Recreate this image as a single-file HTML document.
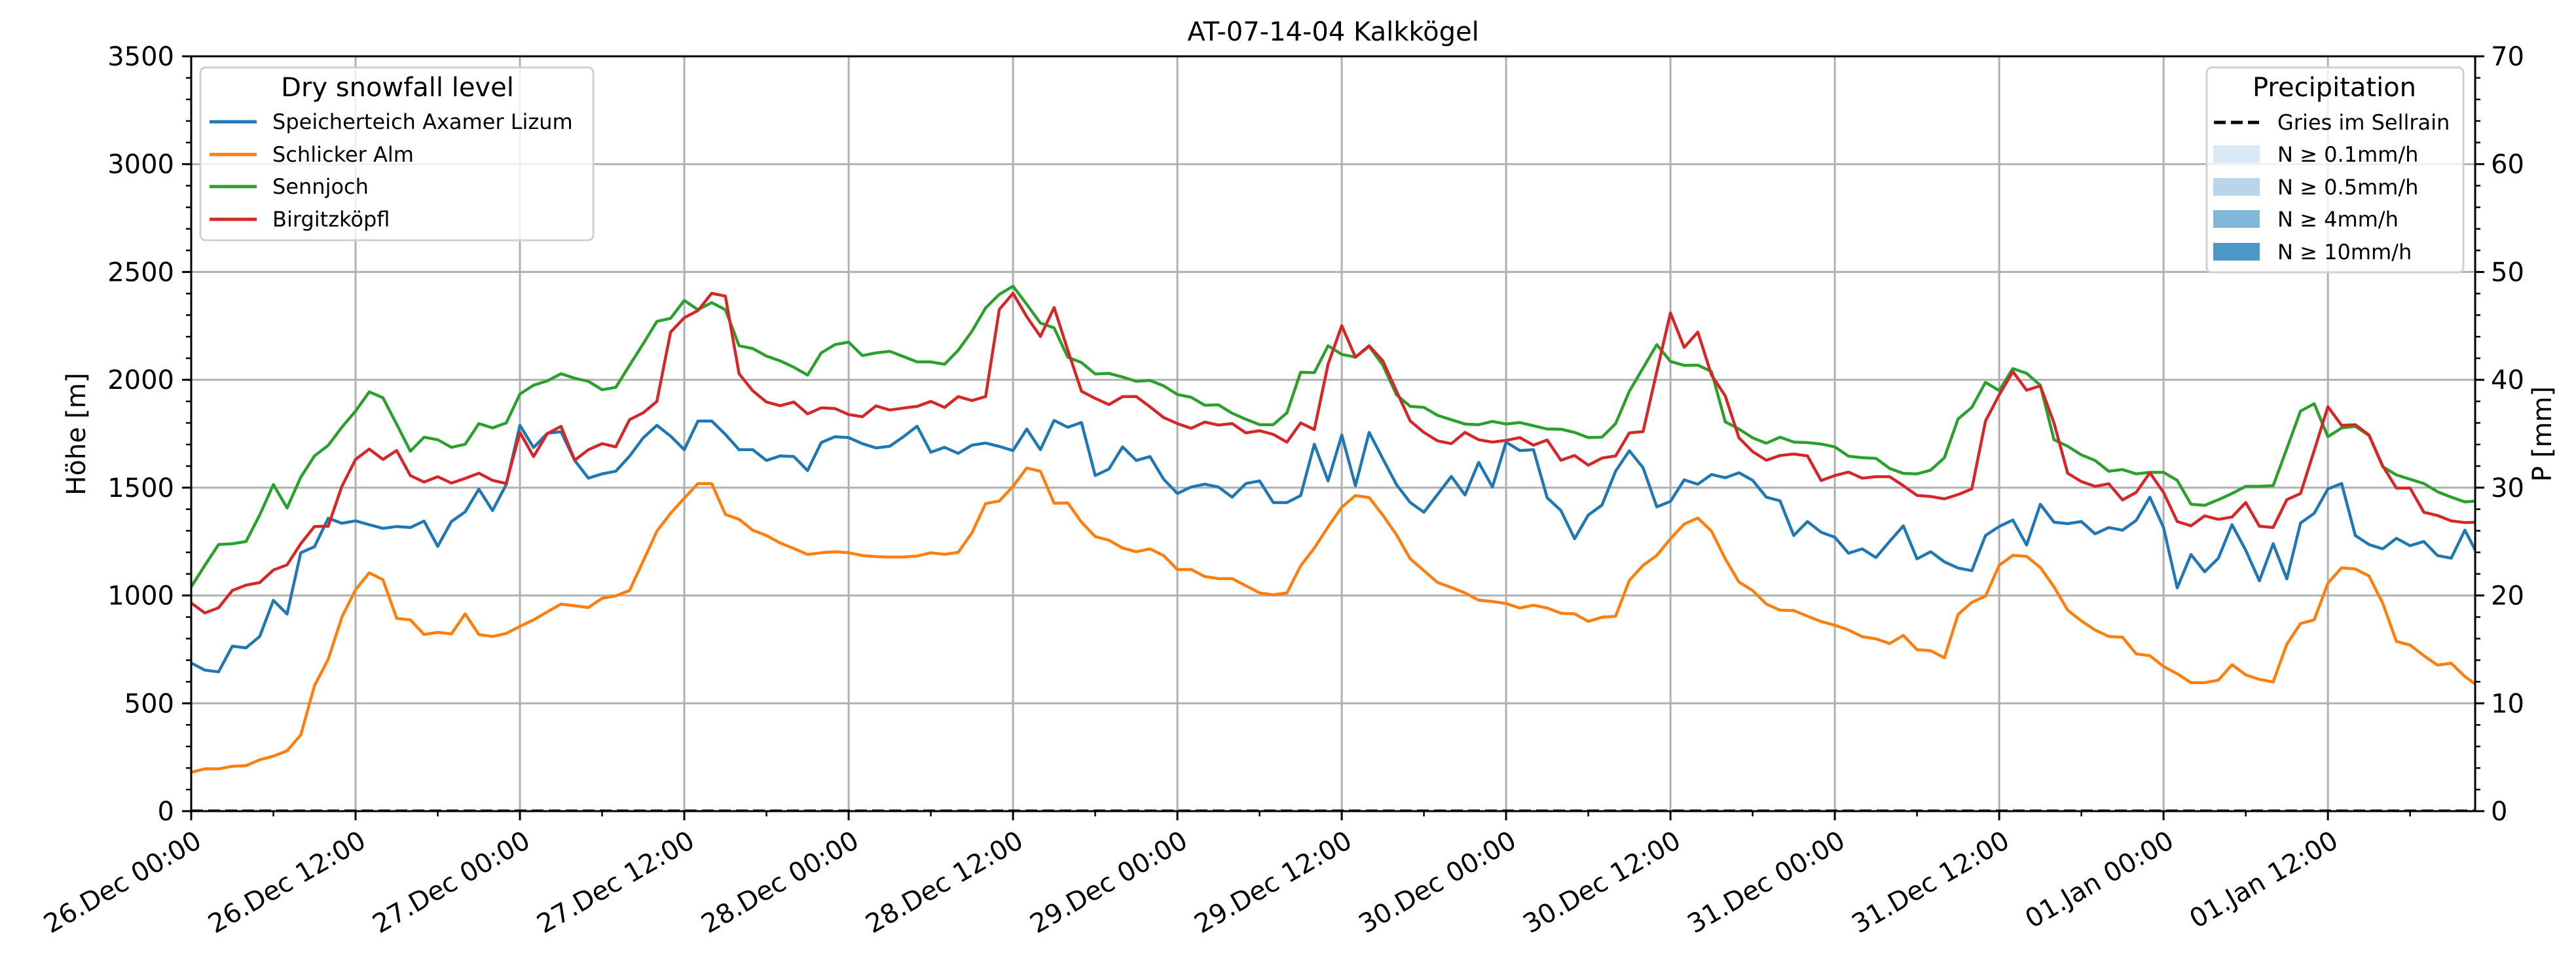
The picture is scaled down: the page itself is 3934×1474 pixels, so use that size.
<!DOCTYPE html>
<html><head><meta charset="utf-8"><style>
html,body{margin:0;padding:0;background:#fff;}
svg{display:block;font-family:"DejaVu Sans","Liberation Sans",sans-serif;}
</style></head><body>
<svg id="chart" width="3934" height="1474" viewBox="0 0 3934 1474" xmlns="http://www.w3.org/2000/svg">
<rect x="0" y="0" width="3934" height="1474" fill="#fff"/>
<g id="grid"></g>
<g id="lines"></g>
<g id="axes"></g>
<text x="2036" y="62" font-size="40" text-anchor="middle">AT-07-14-04 Kalkkögel</text>
<text transform="translate(130,663) rotate(-90)" font-size="40" text-anchor="middle">Höhe [m]</text>
<text transform="translate(3896,663) rotate(-90)" font-size="40" text-anchor="middle">P [mm]</text>

<g>
<rect x="306" y="103" width="600" height="264" rx="8" fill="#fff" fill-opacity="0.8" stroke="#d0d0d0" stroke-width="3"/>
<text x="607" y="147" font-size="40" text-anchor="middle">Dry snowfall level</text>
<line x1="320" y1="186" x2="392" y2="186" stroke="#1f77b4" stroke-width="5"/>
<text x="416" y="197" font-size="32">Speicherteich Axamer Lizum</text>
<line x1="320" y1="236" x2="392" y2="236" stroke="#ff7f0e" stroke-width="5"/>
<text x="416" y="247" font-size="32">Schlicker Alm</text>
<line x1="320" y1="285" x2="392" y2="285" stroke="#2ca02c" stroke-width="5"/>
<text x="416" y="296" font-size="32">Sennjoch</text>
<line x1="320" y1="335" x2="392" y2="335" stroke="#d62728" stroke-width="5"/>
<text x="416" y="346" font-size="32">Birgitzköpfl</text>
</g>

<g>
<rect x="3370" y="103" width="392" height="313" rx="8" fill="#fff" fill-opacity="0.8" stroke="#d0d0d0" stroke-width="3"/>
<text x="3565" y="147" font-size="40" text-anchor="middle">Precipitation</text>
<line x1="3381" y1="187" x2="3450" y2="187" stroke="#000" stroke-width="5" stroke-dasharray="18,8"/>
<text x="3478" y="198" font-size="32">Gries im Sellrain</text>
<rect x="3380" y="222" width="71" height="27" fill="#dbe9f6"/>
<text x="3478" y="247" font-size="32">N ≥ 0.1mm/h</text>
<rect x="3380" y="272" width="71" height="27" fill="#b9d5eb"/>
<text x="3478" y="297" font-size="32">N ≥ 0.5mm/h</text>
<rect x="3380" y="321" width="71" height="27" fill="#81b7d8"/>
<text x="3478" y="346" font-size="32">N ≥ 4mm/h</text>
<rect x="3380" y="371" width="71" height="27" fill="#4b98c9"/>
<text x="3478" y="396" font-size="32">N ≥ 10mm/h</text>
</g>
</svg>
<script>
const xTickLabels = ["26.Dec 00:00","26.Dec 12:00","27.Dec 00:00","27.Dec 12:00","28.Dec 00:00","28.Dec 12:00","29.Dec 00:00","29.Dec 12:00","30.Dec 00:00","30.Dec 12:00","31.Dec 00:00","31.Dec 12:00","01.Jan 00:00","01.Jan 12:00"];
const yTicks = [0,500,1000,1500,2000,2500,3000,3500];
const pTicks = [0,10,20,30,40,50,60,70];
const speicherteich = [687,654,646,765,757,810,977,914,1198,1226,1358,1335,1346,1328,1311,1320,1315,1345,1228,1343,1388,1493,1394,1514,1789,1686,1752,1759,1626,1544,1564,1576,1646,1731,1789,1739,1676,1809,1809,1747,1676,1676,1626,1647,
1644,1579,1709,1736,1732,1704,1684,1692,1736,1785,1664,1687,1659,1697,1707,1691,1672,1772,1676,1812,1780,1802,1556,1586,1689,1626,1644,1539,1473,1503,1516,1503,1456,1519,1531,1431,1431,1463,1701,1531,1744,1509,
1756,1634,1514,1431,1386,1469,1552,1466,1617,1503,1711,1672,1676,1453,1394,1263,1373,1419,1577,1671,1592,1411,1436,1536,1516,1561,1546,1569,1534,1456,1439,1278,1343,1293,1270,1196,1216,1176,1251,1323,1170,1203,
1156,1127,1115,1278,1320,1350,1234,1423,1340,1333,1343,1286,1315,1303,1348,1456,1315,1035,1190,1110,1173,1328,1210,1068,1240,1077,1336,1381,1494,1519,1278,1236,1216,1265,1231,1250,1185,1173,1303,1181];
const schlicker = [180,196,196,208,211,238,255,280,353,582,704,899,1027,1105,1073,894,887,819,829,822,915,819,810,824,857,887,924,960,952,944,987,998,1023,1160,1298,1381,1451,1519,1519,1376,1353,1303,1278,1243,
1218,1190,1198,1203,1198,1185,1180,1178,1178,1183,1198,1191,1200,1290,1426,1438,1506,1591,1576,1428,1429,1340,1273,1256,1220,1203,1216,1185,1120,1121,1088,1078,1078,1045,1012,1003,1012,1137,1220,1318,1409,1463,
1454,1373,1281,1170,1115,1060,1037,1012,978,972,963,942,955,942,918,915,880,899,904,1070,1140,1186,1263,1331,1359,1298,1170,1062,1023,960,932,930,904,879,862,840,809,799,777,815,749,744,
711,912,968,997,1140,1186,1181,1130,1040,932,882,840,810,807,729,721,671,637,596,596,607,679,632,611,599,774,870,887,1057,1128,1123,1090,965,787,770,721,677,686,624,579];
const sennjoch = [1040,1140,1236,1240,1250,1373,1514,1406,1548,1647,1696,1780,1855,1944,1917,1794,1669,1734,1722,1687,1701,1797,1777,1800,1934,1975,1995,2028,2007,1993,1954,1965,2067,2167,2271,2285,2368,2325,2358,2325,2158,2145,2110,2088,
2058,2022,2125,2163,2175,2112,2125,2132,2108,2083,2083,2072,2137,2225,2333,2396,2434,2350,2263,2241,2105,2080,2027,2030,2013,1993,1997,1972,1932,1919,1882,1884,1845,1817,1792,1792,1847,2035,2033,2158,2118,2105,
2155,2068,1930,1877,1872,1835,1815,1795,1792,1807,1795,1802,1787,1772,1771,1756,1732,1734,1797,1947,2055,2163,2085,2067,2068,2038,1805,1772,1731,1706,1734,1711,1709,1702,1689,1646,1639,1636,1589,1566,1564,1581,
1639,1819,1872,1988,1950,2052,2030,1975,1722,1692,1652,1626,1576,1584,1564,1571,1571,1534,1423,1418,1444,1473,1506,1506,1509,1681,1855,1889,1736,1777,1784,1742,1597,1559,1539,1519,1481,1456,1434,1439];
const birgitzkoepfl = [965,919,943,1023,1048,1060,1118,1142,1240,1320,1321,1506,1631,1679,1631,1672,1556,1526,1551,1521,1543,1567,1534,1519,1756,1644,1751,1784,1627,1676,1704,1689,1815,1847,1900,2221,2288,2321,2401,2388,2028,1949,1897,1880,
1897,1842,1870,1867,1839,1829,1879,1860,1869,1877,1900,1872,1922,1904,1922,2326,2401,2293,2201,2335,2138,1947,1914,1885,1922,1922,1875,1825,1797,1775,1804,1790,1797,1754,1764,1747,1711,1800,1769,2072,2251,2105,
2158,2088,1947,1809,1756,1717,1704,1756,1722,1711,1719,1732,1697,1721,1627,1649,1604,1637,1647,1754,1760,2038,2310,2150,2221,2022,1925,1731,1667,1627,1649,1656,1647,1533,1556,1572,1544,1551,1551,1509,1464,1459,
1448,1468,1494,1809,1930,2038,1952,1972,1800,1567,1528,1506,1518,1443,1478,1569,1478,1343,1323,1369,1353,1364,1431,1321,1315,1444,1473,1672,1875,1789,1792,1744,1601,1498,1498,1386,1371,1346,1338,1340];
const griesPrecip = new Array(168).fill(0);

const NS='http://www.w3.org/2000/svg';
const L=292,R=3780,T=86,B=1239,HMAX=166.75,YMAX=3500,PMAX=70;
const xs=h=>L+(h/HMAX)*(R-L);
const ys=v=>B-(v/YMAX)*(B-T);
const ps=v=>B-(v/PMAX)*(B-T);
function mk(tag,attrs,parent){const e=document.createElementNS(NS,tag);for(const k in attrs)e.setAttribute(k,attrs[k]);parent.appendChild(e);return e;}
const grid=document.getElementById('grid'),axes=document.getElementById('axes'),lines=document.getElementById('lines');

// clip
const defs=mk('defs',{},document.getElementById('chart'));
const cp=mk('clipPath',{id:'plotclip'},defs);
mk('rect',{x:L,y:T,width:R-L,height:B-T},cp);
lines.setAttribute('clip-path','url(#plotclip)');

xTickLabels.forEach((lab,i)=>{
  const x=xs(i*12);
  const g=mk('line',{x1:x,y1:T,x2:x,y2:B,stroke:'#b0b0b0','stroke-width':3},grid);
  
  
  const t=mk('line',{x1:x,y1:B,x2:x,y2:B+14,stroke:'#000','stroke-width':3},axes);
  
  
  const tx=mk('text',{transform:`translate(${x+4},${B+28}) rotate(-30)`,'font-size':40,'text-anchor':'end','dominant-baseline':'hanging'},axes);
  tx.textContent=lab;
  
  
});
for(let h=6;h<HMAX;h+=12){
  const x=xs(h);
  const t=mk('line',{x1:x,y1:B,x2:x,y2:B+8,stroke:'#000','stroke-width':2.5},axes);
  
  
}
yTicks.forEach(v=>{
  const y=ys(v);
  const g=mk('line',{x1:L,y1:y,x2:R,y2:y,stroke:'#b0b0b0','stroke-width':3},grid);
  
  
  const t=mk('line',{x1:L-14,y1:y,x2:L,y2:y,stroke:'#000','stroke-width':3},axes);
  
  
  const tx=mk('text',{x:L-26,y:y+14,'font-size':40,'text-anchor':'end'},axes);
  tx.textContent=v;
  
  
});
for(let v=100;v<YMAX;v+=100){ if(v%500===0)continue;
  const y=ys(v);
  const t=mk('line',{x1:L-8,y1:y,x2:L,y2:y,stroke:'#000','stroke-width':2.5},axes);
  
  
}
pTicks.forEach(v=>{
  const y=ps(v);
  const t=mk('line',{x1:R,y1:y,x2:R+14,y2:y,stroke:'#000','stroke-width':3},axes);
  
  
  const tx=mk('text',{x:R+24,y:y+14,'font-size':40,'text-anchor':'start'},axes);
  tx.textContent=v;
  
  
});
for(let v=2;v<PMAX;v+=2){ if(v%10===0)continue;
  const y=ps(v);
  const t=mk('line',{x1:R,y1:y,x2:R+8,y2:y,stroke:'#000','stroke-width':2.5},axes);
  
  
}
const series=[[speicherteich,'#1f77b4','line-speicherteich'],[schlicker,'#ff7f0e','line-schlicker'],[sennjoch,'#2ca02c','line-sennjoch'],[birgitzkoepfl,'#d62728','line-birgitzkoepfl']];
series.forEach(([arr,c,n])=>{
  const d=arr.map((v,i)=>(i?'L':'M')+xs(i).toFixed(1)+','+ys(v).toFixed(1)).join('');
  const p=mk('path',{d:d,fill:'none',stroke:c,'stroke-width':4.5,'stroke-linejoin':'round'},lines);
  
  
});
const pd=griesPrecip.map((v,i)=>(i?'L':'M')+xs(i).toFixed(1)+','+ps(v).toFixed(1)).join('');
const pp=mk('path',{d:pd,fill:'none',stroke:'#000','stroke-width':5,'stroke-dasharray':'18,8'},lines);


const fr=mk('rect',{x:L,y:T,width:R-L,height:B-T,fill:'none',stroke:'#000','stroke-width':3},axes);


</script>
</body></html>
